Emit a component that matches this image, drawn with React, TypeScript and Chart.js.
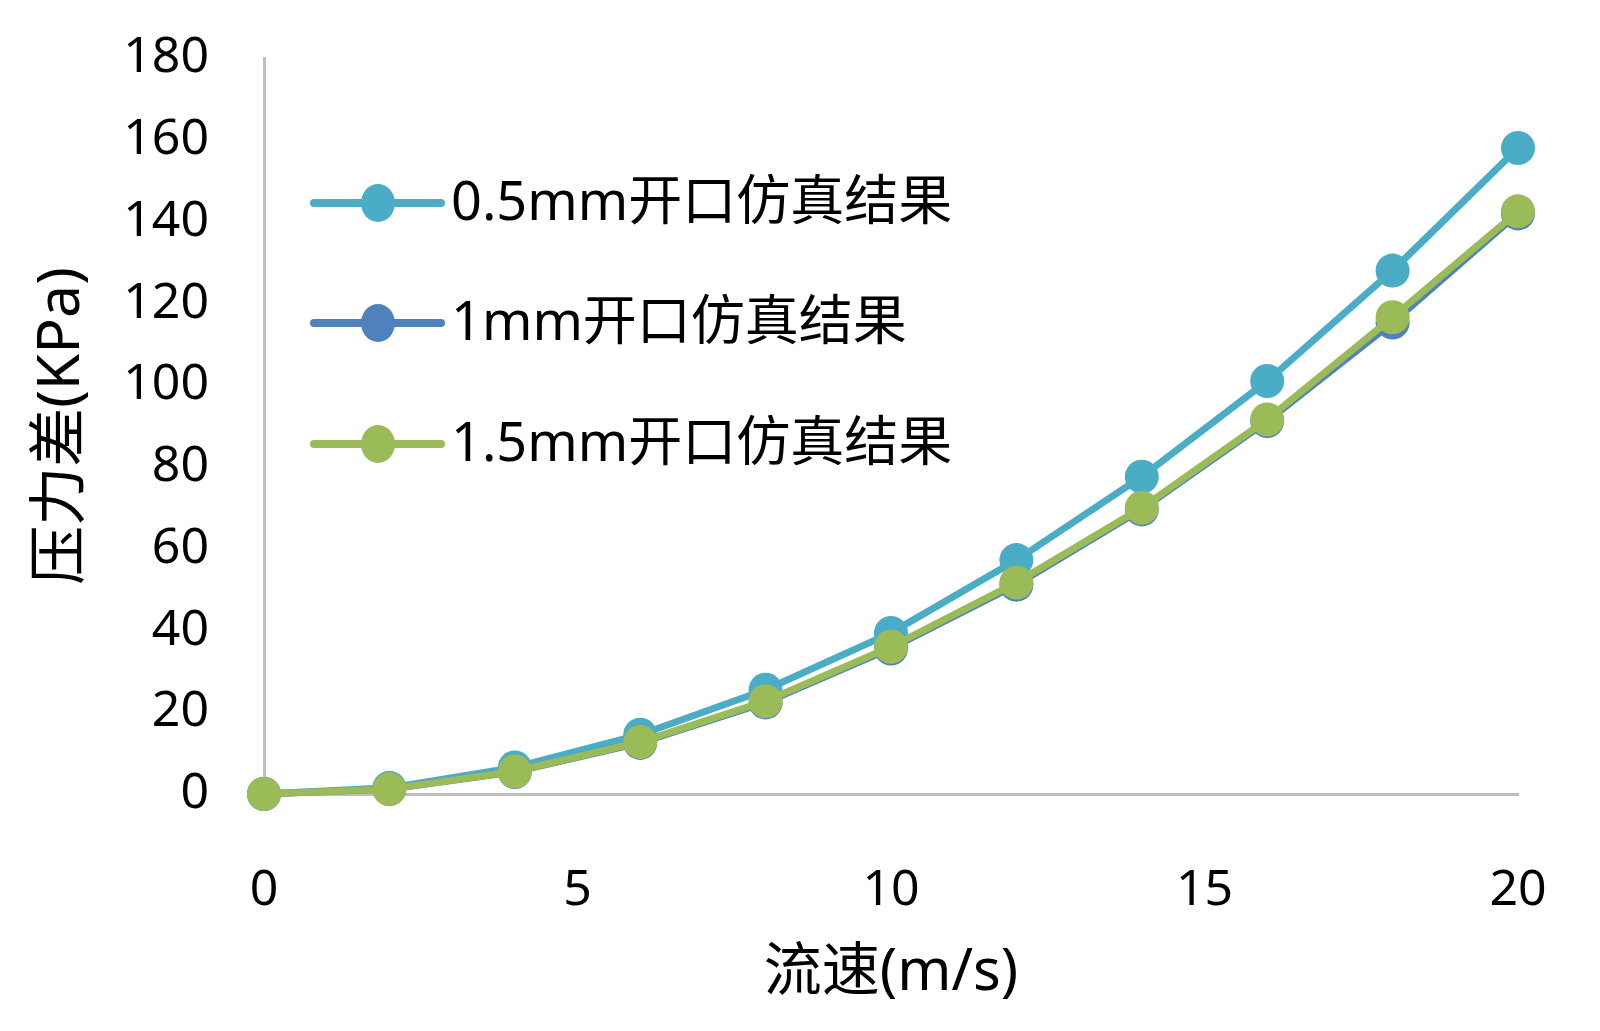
import React, { useEffect, useRef } from "react";
import { Chart, registerables } from "chart.js";

Chart.register(...registerables);

const speeds = [0, 2, 4, 6, 8, 10, 12, 14, 16, 18, 20];
const p05 = [0, 1.5, 6.5, 14.5, 25.5, 39.4, 57.2, 77.6, 101, 128, 158];
const p10 = [0, 1.2, 5.4, 12.5, 22.4, 35.6, 51.2, 69.6, 91.2, 115.3, 142];
const p15 = [0, 1.2, 5.5, 12.7, 22.7, 36, 51.7, 70, 91.6, 116.6, 142.5];
const seriesNames = ["0.5mm开口仿真结果", "1mm开口仿真结果", "1.5mm开口仿真结果"];
const seriesColors = ["#4BACC6", "#4F81BD", "#9BBB59"];
const xTitle = "流速(m/s)";
const yTitle = "压力差(KPa)";

const FAMILY = "'Noto Sans', 'Noto Sans CJK SC', sans-serif";

const legendPlugin = {
  id: "customLegend",
  afterDraw(chart: any) {
    const ctx = chart.ctx;
    const rows = [203, 323, 444];
    ctx.save();
    seriesNames.forEach((name, i) => {
      const y = rows[i];
      const c = seriesColors[i];
      ctx.strokeStyle = c;
      ctx.lineWidth = 8;
      ctx.lineCap = "round";
      ctx.beginPath();
      ctx.moveTo(314, y);
      ctx.lineTo(441, y);
      ctx.stroke();
      ctx.fillStyle = c;
      ctx.beginPath();
      ctx.ellipse(378, y, 17, 19, 0, 0, Math.PI * 2);
      ctx.fill();
      ctx.fillStyle = "#000000";
      ctx.font = `54px ${FAMILY}`;
      ctx.textAlign = "left";
      ctx.textBaseline = "middle";
      ctx.fillText(name, 451, y + 2);
    });
    ctx.restore();
  },
};

export default function App() {
  const ref = useRef<HTMLCanvasElement | null>(null);
  useEffect(() => {
    document.body.style.margin = "0";
    const values = [p05, p10, p15];
    const orders = [3, 2, 1];
    const chart = new Chart(ref.current as HTMLCanvasElement, {
      type: "line",
      data: {
        datasets: seriesNames.map((name, i) => ({
          label: name,
          data: speeds.map((s, j) => ({ x: s, y: values[i][j] })),
          borderColor: seriesColors[i],
          backgroundColor: seriesColors[i],
          pointBackgroundColor: seriesColors[i],
          pointBorderWidth: 0,
          pointRadius: 17,
          pointHoverRadius: 17,
          borderWidth: 7,
          tension: 0,
          clip: false as any,
          order: orders[i],
        })),
      },
      options: {
        animation: false,
        responsive: false,
        devicePixelRatio: 1,
        events: [],
        layout: { padding: { left: 0, right: 82, top: 58, bottom: 0 } },
        plugins: {
          legend: { display: false },
          tooltip: { enabled: false },
        },
        scales: {
          x: {
            type: "linear",
            min: 0,
            max: 20,
            ticks: {
              stepSize: 5,
              padding: 67,
              color: "#000000",
              font: { family: FAMILY, size: 50 },
              maxRotation: 0,
            },
            grid: { display: false, drawTicks: false },
            border: { display: true, color: "#BFBFBF", width: 3 },
            title: {
              display: true,
              text: xTitle,
              color: "#000000",
              font: { family: FAMILY, size: 58 },
              padding: { top: 0, bottom: 23 },
            },
            afterFit(scale: any) {
              scale.height = 237;
              scale.paddingLeft = 0;
              scale.paddingRight = 0;
            },
          },
          y: {
            type: "linear",
            min: 0,
            max: 180,
            ticks: {
              stepSize: 20,
              padding: 55,
              color: "#000000",
              font: { family: FAMILY, size: 50 },
            },
            grid: { display: false, drawTicks: false },
            border: { display: true, color: "#BFBFBF", width: 3 },
            title: {
              display: true,
              text: yTitle,
              color: "#000000",
              font: { family: FAMILY, size: 59 },
              padding: { top: 27, bottom: 0 },
            },
            afterFit(scale: any) {
              scale.width = 264;
              scale.paddingTop = 0;
              scale.paddingBottom = 0;
            },
          },
        },
      },
      plugins: [legendPlugin],
    });
    return () => chart.destroy();
  }, []);
  return (
    <div style={{ width: 1600, height: 1031, background: "#ffffff" }}>
      <canvas ref={ref} width={1600} height={1031} style={{ width: 1600, height: 1031, display: "block" }} />
    </div>
  );
}
